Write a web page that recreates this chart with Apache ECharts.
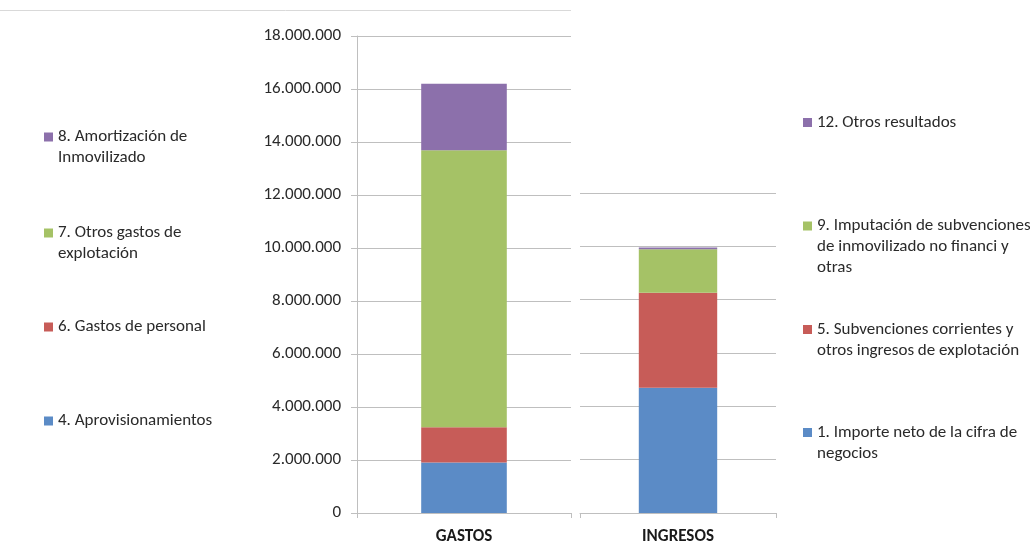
<!DOCTYPE html>
<html>
<head>
<meta charset="utf-8">
<script src="https://cdn.jsdelivr.net/npm/echarts@6/dist/echarts.min.js"></script>
<style>
html,body{margin:0;padding:0;background:#fff;}
#chart{width:1030px;height:544px;}
</style>
</head>
<body>
<div id="chart"></div>
<script>
// ---- data ----
const gastosCategories = ['GASTOS'];
const ingresosCategories = ['INGRESOS'];

const gastosNames = [
  '4. Aprovisionamientos',
  '6. Gastos de personal',
  '7. Otros gastos de explotación',
  '8. Amortización de Inmovilizado'
];
const gastosValues = [1910000, 1330000, 10450000, 2510000];

const ingresosNames = [
  '1. Importe neto de la cifra de negocios',
  '5. Subvenciones corrientes y otros ingresos de explotación',
  '9. Imputación de subvenciones de inmovilizado no financi y otras',
  '12. Otros resultados'
];
const ingresosValues = [4700000, 3560000, 1630000, 70000];

const legendLabels = {
  '4. Aprovisionamientos': '4. Aprovisionamientos',
  '6. Gastos de personal': '6. Gastos de personal',
  '7. Otros gastos de explotación': '7. Otros gastos de\nexplotación',
  '8. Amortización de Inmovilizado': '8. Amortización de\nInmovilizado',
  '1. Importe neto de la cifra de negocios': '1. Importe neto de la cifra de\nnegocios',
  '5. Subvenciones corrientes y otros ingresos de explotación': '5. Subvenciones corrientes y\notros ingresos de explotación',
  '9. Imputación de subvenciones de inmovilizado no financi y otras': '9. Imputación de subvenciones\nde inmovilizado no financi y\notras',
  '12. Otros resultados': '12. Otros resultados'
};

const yMaxGastos = 18000000;
const yMaxIngresos = 12000000;
const yInterval = 2000000;

const colors = ['#5B8BC6', '#C75C58', '#A5C266', '#8C70AB'];

// ---- layout ----
const FONT = 'Carlito, Calibri, Lato, sans-serif';
const TXT = '#2a2a2a';
const GRID = '#BFBFBF';
const LH = 21;

function fmt(v) {
  return String(Math.round(v)).replace(/\B(?=(\d{3})+(?!\d))/g, '.');
}

// icon aligned with first text line: pad the block with leading empty lines
function legendText(name) {
  const lines = legendLabels[name].split('\n');
  return '\n'.repeat(lines.length - 1) + lines.join('\n');
}

function makeLegend(name, left, firstLineCenter) {
  const lines = legendLabels[name].split('\n').length;
  return {
    data: [name],
    orient: 'vertical',
    left: left,
    top: firstLineCenter - LH / 2 - LH * (lines - 1),
    padding: 0,
    itemWidth: 9,
    itemHeight: 9,
    icon: 'rect',
    selectedMode: false,
    formatter: legendText,
    textStyle: { fontFamily: FONT, fontSize: 17, color: TXT, lineHeight: LH }
  };
}

const leftCenters = [421, 327, 233, 137];
const rightCenters = [432.5, 329.5, 226, 122.5];

const legends = [];
gastosNames.forEach((n, i) => legends.push(makeLegend(n, 44, leftCenters[i])));
ingresosNames.forEach((n, i) => legends.push(makeLegend(n, 803, rightCenters[i])));

const series = [];
gastosNames.forEach((n, i) => series.push({
  name: n, type: 'bar', stack: 'gastos', xAxisIndex: 0, yAxisIndex: 0,
  barWidth: '40%', itemStyle: { color: colors[i] },
  data: [gastosValues[i]]
}));
ingresosNames.forEach((n, i) => series.push({
  name: n, type: 'bar', stack: 'ingresos', xAxisIndex: 1, yAxisIndex: 1,
  barWidth: '40%', itemStyle: { color: colors[i] },
  data: [ingresosValues[i]]
}));

const xAxisCommon = {
  type: 'category',
  axisLine: { lineStyle: { color: GRID } },
  axisTick: { show: true, length: 5, lineStyle: { color: GRID } },
  axisLabel: { fontFamily: FONT, fontSize: 17, fontWeight: 'bold', color: '#1a1a1a', margin: 15 }
};

const option = {
  animation: false,
  backgroundColor: '#fff',
  graphic: [{
    type: 'line', silent: true,
    shape: { x1: 0, y1: 10.5, x2: 571, y2: 10.5 },
    style: { stroke: '#D9D9D9', lineWidth: 1 }
  }],
  legend: legends,
  grid: [
    { left: 357, top: 36, width: 214, bottom: 31, containLabel: false, outerBoundsMode: 'none' },
    { left: 580, top: 193, width: 196, bottom: 31, containLabel: false, outerBoundsMode: 'none' }
  ],
  xAxis: [
    Object.assign({ gridIndex: 0, data: gastosCategories }, xAxisCommon),
    Object.assign({ gridIndex: 1, data: ingresosCategories }, xAxisCommon)
  ],
  yAxis: [
    {
      type: 'value', gridIndex: 0, min: 0, max: yMaxGastos, interval: yInterval,
      axisLine: { show: true, lineStyle: { color: GRID } },
      axisTick: { show: true, length: 6, lineStyle: { color: GRID } },
      splitLine: { lineStyle: { color: GRID } },
      axisLabel: { fontFamily: FONT, fontSize: 17, color: TXT, margin: 16, formatter: fmt }
    },
    {
      type: 'value', gridIndex: 1, min: 0, max: yMaxIngresos, interval: yInterval,
      axisLine: { show: false }, axisTick: { show: false },
      splitLine: { lineStyle: { color: GRID } },
      axisLabel: { show: false }
    }
  ],
  series: series
};

const chart = echarts.init(document.getElementById('chart'), null, { renderer: 'canvas' });
chart.setOption(option);
</script>
</body>
</html>
